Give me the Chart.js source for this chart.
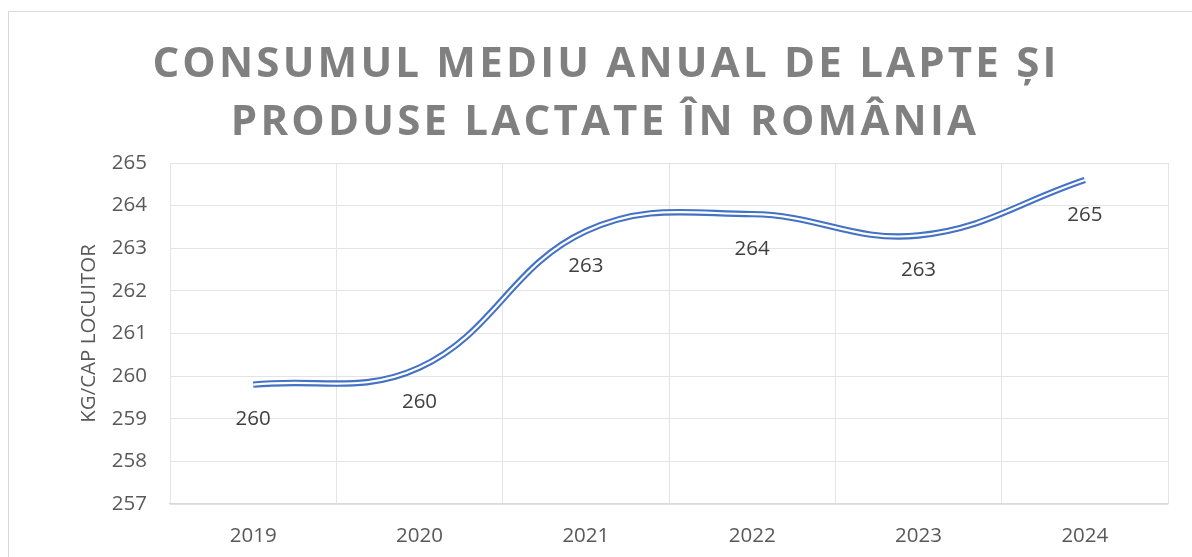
<!DOCTYPE html>
<html>
<head>
<meta charset="utf-8">
<script src="https://cdn.jsdelivr.net/npm/chart.js@4"></script>
<style>
    body { margin: 0; background: #ffffff; overflow: hidden; }
    #frame {
        position: absolute; left: 8px; top: 11px;
        width: 1300px; height: 700px;
        border: 1.5px solid #d9d9d9;
    }
    #wrap { position: absolute; left: 0; top: 0; width: 1192px; height: 557px; }
</style>
</head>
<body>
<div id="frame"></div>
<div id="wrap"><canvas id="lineChart" width="1192" height="557"></canvas></div>
<script>
// Chart data
const years = ['2019', '2020', '2021', '2022', '2023', '2024'];
const consum = [259.8, 260.2, 263.4, 263.8, 263.3, 264.6];
const yTicks = [257, 258, 259, 260, 261, 262, 263, 264, 265];
const titleLines = ['CONSUMUL MEDIU ANUAL DE LAPTE ȘI', 'PRODUSE LACTATE ÎN ROMÂNIA'];
const yTitle = 'KG/CAP LOCUITOR';

const FONT = "'Open Sans', sans-serif";

// Title with letter spacing (drawn on the canvas)
const spacedTitle = {
    id: 'spacedTitle',
    afterDraw: function (chart) {
        const ctx = chart.ctx;
        ctx.save();
        ctx.font = 'bold 42px ' + FONT;
        ctx.fillStyle = '#808080';
        ctx.textAlign = 'center';
        ctx.textBaseline = 'alphabetic';
        ctx.letterSpacing = '3.2px';
        ctx.fillText(titleLines[0], 606, 77);
        ctx.fillText(titleLines[1], 605, 135);
        ctx.restore();
    }
};

// Value labels under each point
const pointLabels = {
    id: 'pointLabels',
    afterDatasetsDraw: function (chart) {
        const ctx = chart.ctx;
        const meta = chart.getDatasetMeta(0);
        ctx.save();
        ctx.font = '20.5px ' + FONT;
        ctx.fillStyle = '#404040';
        ctx.textAlign = 'center';
        ctx.textBaseline = 'middle';
        meta.data.forEach(function (pt, i) {
            ctx.fillText(Math.round(consum[i]).toString(), pt.x, pt.y + 35);
        });
        ctx.restore();
    }
};

const ctxLine = document.getElementById('lineChart').getContext('2d');

new Chart(ctxLine, {
    type: 'line',
    data: {
        labels: years,
        datasets: [
            {
                // outer blue stroke
                data: consum,
                borderColor: '#4472c4',
                borderWidth: 6.4,
                tension: 0.4,
                pointRadius: 0,
                fill: false,
                order: 2
            },
            {
                // white core on top -> double line look
                data: consum,
                borderColor: '#ffffff',
                borderWidth: 2.2,
                tension: 0.4,
                pointRadius: 0,
                fill: false,
                order: 1
            }
        ]
    },
    options: {
        responsive: false,
        animation: false,
        layout: {
            padding: { left: 0, right: 24, top: 163, bottom: 0 }
        },
        plugins: {
            legend: { display: false },
            title: { display: false },
            tooltip: { enabled: false }
        },
        scales: {
            x: {
                offset: true,
                grid: {
                    offset: true,
                    color: '#e4e4e4',
                    lineWidth: 1,
                    drawTicks: false
                },
                border: { color: '#d9d9d9', width: 1.2 },
                ticks: {
                    color: '#595959',
                    padding: 20,
                    font: { family: FONT, size: 20.5 }
                },
                afterFit: function (scale) { scale.height = 557 - 504; }
            },
            y: {
                min: yTicks[0],
                max: yTicks[yTicks.length - 1],
                afterBuildTicks: function (scale) {
                    scale.ticks = yTicks.map(function (v) { return { value: v }; });
                },
                grid: {
                    color: '#e4e4e4',
                    lineWidth: 1,
                    drawTicks: false
                },
                border: { display: false },
                ticks: {
                    color: '#595959',
                    padding: 23,
                    font: { family: FONT, size: 20.5 }
                },
                title: {
                    display: true,
                    text: yTitle,
                    color: '#595959',
                    font: { family: FONT, size: 20.5 },
                    padding: { top: 77, bottom: 0 }
                },
                afterFit: function (scale) { scale.width = 170; }
            }
        }
    },
    plugins: [spacedTitle, pointLabels]
});
</script>
</body>
</html>
